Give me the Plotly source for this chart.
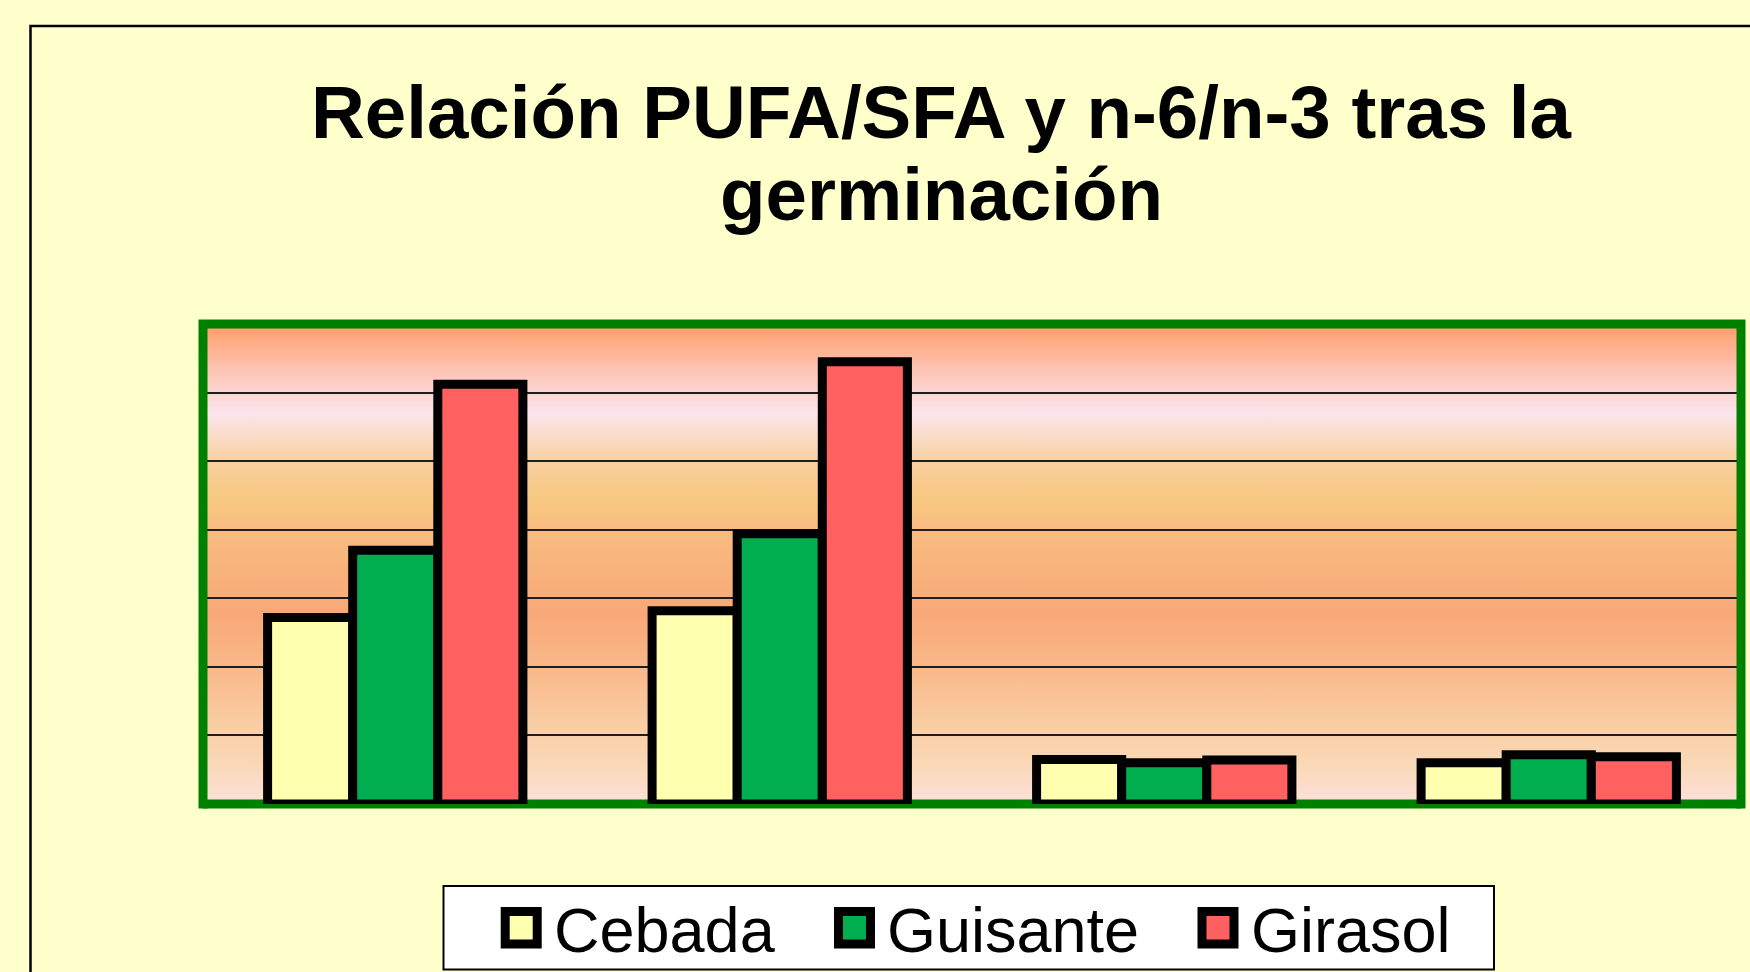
import base64
import plotly.graph_objects as go

# ---------------- data ----------------
categories = ["Grupo 1", "Grupo 2", "Grupo 3", "Grupo 4"]
series_names = ["Cebada", "Guisante", "Girasol"]
cebada = [2.72, 2.82, 0.65, 0.60]
guisante = [3.70, 3.94, 0.60, 0.72]
girasol = [6.12, 6.45, 0.64, 0.69]
grid_values = [1, 2, 3, 4, 5, 6]
title_lines = ["Relación PUFA/SFA y n-6/n-3 tras la", "germinación"]

# ---------------- style ----------------
colors = ["#FFFFB0", "#00AE50", "#FF6161"]
W, H = 1750, 972
L, R, T, B = 203, 9, 324, 168
pw, ph = W - L - R, H - T - B


def px(x):
    return (x - L) / pw


def py(y):
    return (H - B - y) / ph


fig = go.Figure()
for name, vals, col in zip(series_names, [cebada, guisante, girasol], colors):
    fig.add_trace(go.Bar(
        x=categories, y=vals, name=name,
        marker=dict(color=col, line=dict(color="black", width=9)),
        cliponaxis=False, showlegend=False,
    ))

# background gradient of plot area (SVG data URI image)
stops = [(0.0, "#FFA070"), (0.01, "#FFA070"), (0.096, "#FEC4B4"), (0.185, "#FCE4EC"),
         (0.256, "#F9D8B8"), (0.285, "#F8D0A0"), (0.367, "#F8C880"), (0.43, "#F8BC80"),
         (0.606, "#F8A878"), (0.715, "#F9B888"), (0.852, "#FAD0A8"), (0.923, "#FAD8B8"),
         (1.0, "#FCE0DC")]
stop_xml = "".join(f'<stop offset="{o}" stop-color="{c}"/>' for o, c in stops)
svg = ('<svg xmlns="http://www.w3.org/2000/svg" width="100" height="100" viewBox="0 0 100 100" '
       'preserveAspectRatio="none"><defs><linearGradient id="g" x1="0" y1="0" x2="0" y2="1">'
       + stop_xml + '</linearGradient></defs><rect x="0" y="0" width="100" height="100" fill="url(#g)"/></svg>')
src = "data:image/svg+xml;base64," + base64.b64encode(svg.encode()).decode()

shapes = []
# outer black frame
shapes.append(dict(type="rect", xref="paper", yref="paper",
                   x0=px(30.5), x1=px(1765), y0=py(990), y1=py(26),
                   line=dict(color="black", width=2.5), layer="below"))
# green border: bottom below bars, other sides above
shapes.append(dict(type="line", xref="paper", yref="paper", x0=0, x1=1, y0=0, y1=0,
                   line=dict(color="#008000", width=9), layer="below"))
shapes.append(dict(type="path", xref="paper", yref="paper",
                   path=f"M 0,{py(H - B + 4.5)} L 0,1 L 1,1 L 1,{py(H - B + 4.5)}",
                   line=dict(color="#008000", width=9), layer="above"))

# legend box (manual)
shapes.append(dict(type="rect", xref="paper", yref="paper",
                   x0=px(443.5), x1=px(1494), y0=py(969.5), y1=py(886),
                   fillcolor="white", line=dict(color="black", width=2), layer="above"))
legend_left = [500.7, 834.0, 1197.5]
annotations = []
for name, col, lx in zip(series_names, colors, legend_left):
    shapes.append(dict(type="rect", xref="paper", yref="paper",
                       x0=px(lx + 4.5), x1=px(lx + 36.5), y0=py(944), y1=py(911.5),
                       fillcolor=col, line=dict(color="black", width=9), layer="above"))
    annotations.append(dict(text=name, xref="paper", yref="paper",
                            x=px(lx + 51), y=py(930), xanchor="left", yanchor="middle",
                            showarrow=False,
                            font=dict(family="Liberation Sans, Arial, sans-serif", size=63, color="black")))

# title (two lines)
for line, ymid in zip(title_lines, [112, 195]):
    annotations.append(dict(text=line, xref="paper", yref="paper",
                            x=px(941), y=py(ymid), xanchor="center", yanchor="middle",
                            showarrow=False,
                            font=dict(family="Liberation Sans, Arial, sans-serif", size=74.5,
                                      color="black", weight="bold")))

fig.update_layout(
    width=W, height=H,
    margin=dict(l=L, r=R, t=T, b=B, pad=0),
    paper_bgcolor="#FFFFCC",
    plot_bgcolor="rgba(0,0,0,0)",
    barmode="group", bargap=0.336, bargroupgap=0,
    showlegend=False,
    shapes=shapes,
    annotations=annotations,
    images=[dict(source=src, xref="paper", yref="paper", x=0, y=1, sizex=1, sizey=1,
                 xanchor="left", yanchor="top", sizing="stretch", layer="below")],
    xaxis=dict(showticklabels=False, showgrid=False, zeroline=False, showline=False,
               ticks=""),
    yaxis=dict(range=[0, 7], tickvals=grid_values, showticklabels=False, ticks="",
               showgrid=True, gridcolor="#1E1E1E", gridwidth=2, zeroline=False,
               showline=False),
)

fig.write_html(
    "out.html",
    config={"displayModeBar": False},
    post_script="document.body.style.margin='0';document.body.style.overflow='hidden';",
)
